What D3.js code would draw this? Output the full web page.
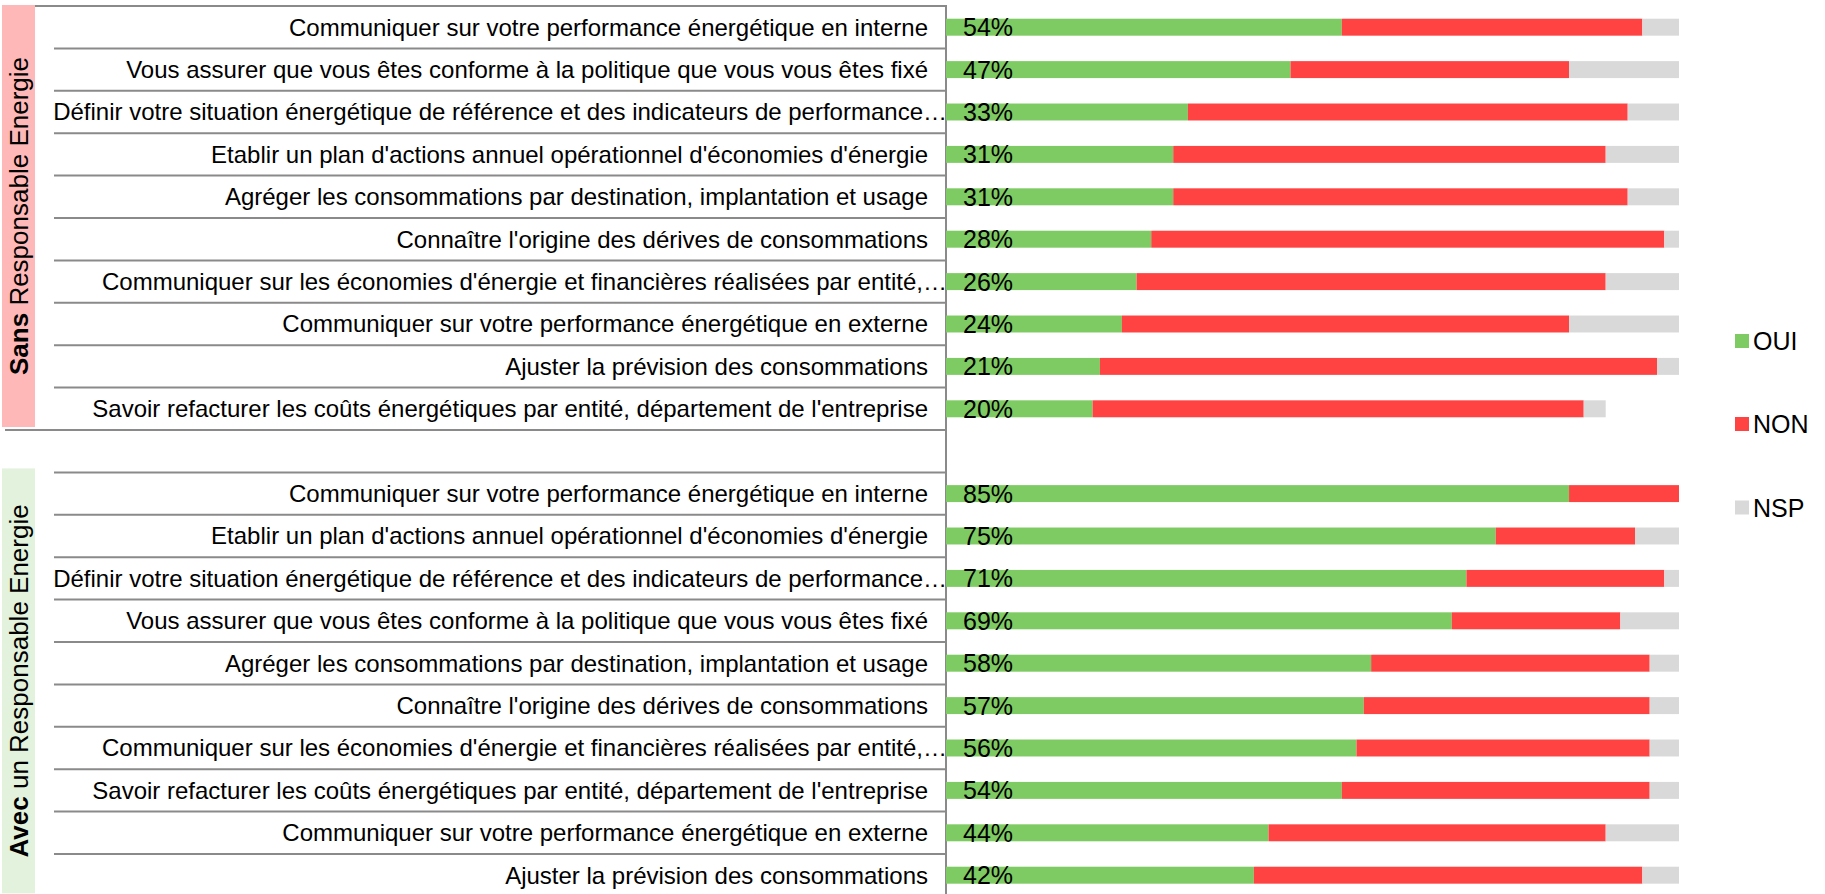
<!DOCTYPE html>
<html>
<head>
<meta charset="utf-8">
<script src="https://cdn.jsdelivr.net/npm/d3@7"></script>
<style>
  body { margin: 0; background: white; }
  text { font-family: "Liberation Sans", Arial, sans-serif; }
</style>
</head>
<body>
<svg id="chart" width="1825" height="894"></svg>
<script>
// ------- Data ------
const categoriesSans = [
  "Communiquer sur votre performance énergétique en interne",
  "Vous assurer que vous êtes conforme à la politique que vous vous êtes fixé",
  "Définir votre situation énergétique de référence et des indicateurs de performance…",
  "Etablir un plan d'actions annuel opérationnel d'économies d'énergie",
  "Agréger les consommations par destination, implantation et usage",
  "Connaître l'origine des dérives de consommations",
  "Communiquer sur les économies d'énergie et financières réalisées par entité,…",
  "Communiquer sur votre performance énergétique en externe",
  "Ajuster la prévision des consommations",
  "Savoir refacturer les coûts énergétiques par entité, département de l'entreprise"
];
const ouiSans = [54, 47, 33, 31, 31, 28, 26, 24, 21, 20];
const nonSans = [41, 38, 60, 59, 62, 70, 64, 61, 76, 67];
const nspSans = [5, 15, 7, 10, 7, 2, 10, 15, 3, 3];

const categoriesAvec = [
  "Communiquer sur votre performance énergétique en interne",
  "Etablir un plan d'actions annuel opérationnel d'économies d'énergie",
  "Définir votre situation énergétique de référence et des indicateurs de performance…",
  "Vous assurer que vous êtes conforme à la politique que vous vous êtes fixé",
  "Agréger les consommations par destination, implantation et usage",
  "Connaître l'origine des dérives de consommations",
  "Communiquer sur les économies d'énergie et financières réalisées par entité,…",
  "Savoir refacturer les coûts énergétiques par entité, département de l'entreprise",
  "Communiquer sur votre performance énergétique en externe",
  "Ajuster la prévision des consommations"
];
const ouiAvec = [85, 75, 71, 69, 58, 57, 56, 54, 44, 42];
const nonAvec = [15, 19, 27, 23, 38, 39, 40, 42, 46, 53];
const nspAvec = [0, 6, 2, 8, 4, 4, 4, 4, 10, 5];

const groupNames = [["Sans", " Responsable Energie"], ["Avec", " un Responsable Energie"]];
const seriesNames = ["OUI", "NON", "NSP"];
const colors = ["#7ecb63", "#ff4343", "#d9d9d9"];

// one table for the stack, with an empty spacer row between the groups
const rows = [];
categoriesSans.forEach((c, i) => rows.push({ key: "s" + i, label: c, OUI: ouiSans[i], NON: nonSans[i], NSP: nspSans[i], group: 0 }));
rows.push({ key: "blank", label: "", OUI: 0, NON: 0, NSP: 0, group: -1 });
categoriesAvec.forEach((c, i) => rows.push({ key: "a" + i, label: c, OUI: ouiAvec[i], NON: nonAvec[i], NSP: nspAvec[i], group: 1 }));

const svg = d3.select("#chart");

const axisX = 946;
const plotTop = 6;
const rowStep = 42.4;

const x = d3.scaleLinear().domain([0, 100]).range([axisX, 1679]);
const y = d3.scaleBand()
  .domain(rows.map(d => d.key))
  .range([plotTop, plotTop + rows.length * rowStep])
  .paddingInner(0.6)
  .paddingOuter(0.3);
const step = y.step();

// ------- group boxes ------
const groupSpans = [[0, 10], [11, 21]];
const groupFills = ["#ffb8b8", "#e3f2dc"];
groupSpans.forEach((s, g) => {
  const y0 = plotTop + s[0] * step - (g === 0 ? 1 : 4);
  const y1 = plotTop + s[1] * step - 3;
  svg.append("rect")
    .attr("x", 2)
    .attr("y", y0)
    .attr("width", 33)
    .attr("height", y1 - y0)
    .attr("fill", groupFills[g]);

  const cy = (y0 + Math.min(y1, 894)) / 2;
  const t = svg.append("text")
    .attr("transform", `translate(28,${cy}) rotate(-90)`)
    .attr("text-anchor", "middle")
    .attr("font-size", "26px")
    .attr("fill", "#000");
  t.append("tspan").attr("font-weight", "bold").text(groupNames[g][0]);
  t.append("tspan").text(groupNames[g][1]);
});

// ------- grid lines of the category axis ------
const lineColor = "#8a8a8a";
for (let i = 0; i <= rows.length; i++) {
  let x0 = 54;
  if (i === 0) x0 = 35;
  if (i === 10) x0 = 5;
  svg.append("line")
    .attr("x1", x0).attr("x2", axisX)
    .attr("y1", plotTop + i * step).attr("y2", plotTop + i * step)
    .attr("stroke", lineColor)
    .attr("stroke-width", 2);
}
svg.append("line")
  .attr("x1", axisX).attr("x2", axisX)
  .attr("y1", plotTop - 1).attr("y2", 894)
  .attr("stroke", lineColor)
  .attr("stroke-width", 2);

// ------- bars ------
const stack = d3.stack().keys(seriesNames)(rows);
svg.append("g").selectAll("g")
  .data(stack)
  .join("g")
  .attr("fill", (d, i) => colors[i])
  .selectAll("rect")
  .data(d => d.filter(p => p.data.group >= 0))
  .join("rect")
  .attr("x", d => x(d[0]))
  .attr("y", d => y(d.data.key))
  .attr("width", d => x(d[1]) - x(d[0]))
  .attr("height", y.bandwidth());

// ------- category labels ------
// truncated labels run over the axis line, like in the original
svg.append("g").selectAll("text")
  .data(rows.filter(d => d.group >= 0))
  .join("text")
  .attr("x", d => d.label.endsWith("…") ? axisX + 1 : 928)
  .attr("text-anchor", "end")
  .attr("y", d => y(d.key) + y.bandwidth() / 2)
  .attr("dy", "0.35em")
  .attr("font-size", "24px")
  .attr("fill", "#000")
  .text(d => d.label);

// ------- value labels ------
svg.append("g").selectAll("text")
  .data(rows.filter(d => d.group >= 0))
  .join("text")
  .attr("x", x(0) + 17)
  .attr("y", d => y(d.key) + y.bandwidth() / 2)
  .attr("dy", "0.36em")
  .attr("font-size", "25px")
  .attr("fill", "#000")
  .text(d => d.OUI + "%");

// ------- legend ------
const legend = svg.append("g").attr("transform", "translate(1735,0)");
const legendY = [341, 424, 507.5];
seriesNames.forEach((s, i) => {
  legend.append("rect")
    .attr("x", 0)
    .attr("y", legendY[i] - 7)
    .attr("width", 14)
    .attr("height", 14)
    .attr("fill", colors[i]);
  legend.append("text")
    .attr("x", 18)
    .attr("y", legendY[i])
    .attr("dy", "0.36em")
    .attr("font-size", "25px")
    .attr("fill", "#000")
    .text(s);
});
</script>
</body>
</html>
